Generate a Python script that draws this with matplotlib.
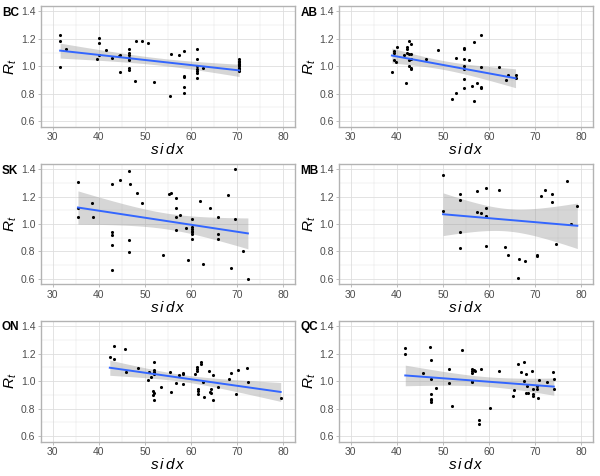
import numpy as np
import matplotlib
matplotlib.use("Agg")
import matplotlib.pyplot as plt
from matplotlib.ticker import MultipleLocator

# ---------------- data ----------------
bc_x = [31.65, 31.65, 31.65, 32.95, 39.6, 40.0, 40.0, 40.0, 41.6, 42.8, 44.4, 44.7, 44.6,
        46.5, 46.5, 46.5, 46.5, 46.5, 46.5, 46.5, 47.8, 48.1, 49.4, 50.7, 52.0, 55.4, 55.7,
        57.4, 58.4, 58.4, 58.4, 58.4, 58.4, 61.3, 61.3, 61.3, 61.3, 61.3, 61.3, 61.3, 62.6,
        70.4, 70.4, 70.4, 70.4, 70.4, 70.4, 70.4, 70.4, 70.4, 70.4]
bc_y = [1.23, 1.185, 0.995, 1.13, 1.05, 1.21, 1.17, 1.08, 1.12, 1.06, 1.075, 1.08, 0.96,
        1.125, 1.095, 1.08, 1.06, 1.045, 0.99, 0.97, 0.89, 1.185, 1.185, 1.17, 0.888, 0.783, 1.093,
        1.08, 1.11, 0.93, 0.92, 0.853, 0.805, 1.127, 1.05, 1.0, 0.98, 0.965, 0.955, 0.912, 0.99,
        1.05, 1.04, 1.03, 1.02, 1.015, 1.01, 1.0, 0.99, 0.98, 0.965]

ab_x = [38.9, 39.3, 39.3, 39.3, 39.8, 40.1, 41.5, 41.9, 42.1, 42.1, 42.2, 42.6, 42.6, 42.6,
        42.6, 43.0, 43.1, 43.1, 43.1, 43.1, 46.3, 48.8, 52.0, 52.8, 52.9, 54.6, 54.6, 54.6,
        54.6, 54.6, 54.6, 54.6, 55.6, 56.2, 56.8, 56.8, 57.3, 58.3, 58.3, 58.3, 58.3, 62.1,
        63.6, 64.1, 65.7, 65.7]
ab_y = [0.956, 1.10, 1.11, 1.046, 1.03, 1.139, 1.08, 0.88, 1.14, 1.13, 1.10, 1.188, 1.088, 1.044,
        1.0, 1.163, 1.088, 1.056, 0.99, 0.98, 1.056, 1.12, 0.763, 0.805, 1.063, 1.137, 1.125, 1.056,
        1.0, 0.98, 0.907, 0.84, 1.044, 0.86, 1.175, 0.744, 0.875, 1.227, 0.995, 0.85, 0.84, 0.995,
        0.90, 0.934, 0.934, 0.912]

sk_x = [35.5, 35.5, 35.5, 38.6, 38.8, 42.8, 42.8, 42.8, 42.8, 42.8, 44.6, 46.5, 46.8, 46.5,
        46.5, 48.3, 49.4, 53.9, 55.3, 55.6, 56.7, 56.7, 56.7, 56.7, 57.5, 58.8, 59.4, 60.3,
        60.3, 60.3, 60.3, 60.3, 60.3, 60.3, 61.9, 62.6, 64.0, 65.8, 65.8, 65.8, 68.1, 68.6,
        69.5, 69.6, 71.3, 72.3]
sk_y = [1.309, 1.118, 1.049, 1.155, 1.054, 1.297, 0.941, 0.919, 0.848, 0.661, 1.324, 1.39, 1.297, 0.882,
        0.796, 1.231, 1.157, 0.777, 1.218, 1.228, 1.191, 1.118, 1.052, 0.956, 1.066, 0.975, 0.737, 1.039,
        0.98, 0.965, 0.95, 0.94, 0.925, 0.89, 1.167, 0.705, 1.118, 1.052, 0.929, 0.892, 1.216, 0.676,
        1.403, 1.037, 0.80, 0.598]

mb_x = [50.0, 50.0, 53.6, 53.7, 53.7, 53.7, 57.3, 57.4, 58.3, 59.2, 59.2, 59.2, 59.2, 62.2,
        63.4, 64.0, 66.4, 66.2, 67.8, 70.4, 70.4, 71.3, 72.1, 73.6, 73.6, 74.5, 76.8, 77.7, 79.1]
mb_y = [1.361, 1.098, 1.223, 1.177, 0.939, 0.826, 1.24, 1.086, 1.083, 1.265, 1.115, 1.056, 0.84, 1.252,
        0.835, 0.776, 0.747, 0.605, 0.732, 0.772, 0.765, 1.206, 1.25, 1.218, 1.162, 0.853, 1.317, 0.998, 1.133]

on_x = [42.4, 43.3, 43.3, 45.7, 45.9, 48.6, 50.6, 50.8, 51.4, 51.9, 51.9, 51.9, 51.9, 51.8,
        52.0, 51.7, 51.9, 53.5, 55.4, 55.7, 56.8, 57.4, 58.3, 58.3, 58.3, 60.9, 61.2, 61.2,
        61.2, 61.6, 61.6, 61.6, 62.1, 62.1, 62.6, 62.8, 63.8, 64.0, 64.4, 64.4, 64.7, 64.7,
        65.8, 68.2, 68.6, 69.8, 70.1, 72.2, 72.4, 79.4]
on_y = [1.179, 1.254, 1.162, 1.233, 1.066, 1.095, 1.01, 1.066, 1.032, 1.136, 1.08, 1.066, 1.051, 0.927,
        0.91, 0.898, 0.864, 0.954, 1.068, 0.917, 0.985, 1.041, 1.061, 1.049, 0.978, 1.049, 1.10, 1.087,
        1.075, 0.942, 0.925, 0.908, 1.141, 1.124, 0.993, 0.884, 1.073, 0.917, 0.91, 0.944, 1.046, 0.859,
        0.959, 1.012, 1.056, 0.905, 1.083, 1.092, 0.995, 0.88]

qc_x = [41.8, 41.8, 45.6, 47.1, 47.3, 47.3, 47.3, 47.3, 47.3, 47.3, 48.4, 51.3, 51.3, 51.9,
        54.2, 56.3, 56.3, 56.3, 56.3, 56.3, 56.7, 57.0, 57.8, 57.8, 58.3, 60.2, 62.1, 65.1,
        65.4, 66.3, 66.9, 67.5, 67.6, 68.0, 68.0, 68.4, 68.3, 69.3, 69.4, 69.4, 69.4, 70.3,
        70.3, 70.5, 70.8, 72.6, 73.9, 74.0, 74.0]
qc_y = [1.24, 1.196, 1.061, 1.247, 1.152, 1.017, 0.905, 0.873, 0.861, 0.849, 0.951, 1.09, 0.983, 0.815,
        1.228, 1.085, 1.073, 1.061, 1.002, 0.99, 1.08, 1.07, 0.716, 0.684, 1.09, 0.805, 1.073, 0.888,
        0.934, 1.123, 1.065, 1.136, 0.998, 1.055, 0.915, 0.91, 0.961, 1.07, 0.939, 0.905, 0.89, 0.964,
        0.939, 0.88, 1.005, 0.992, 1.065, 1.012, 0.939]

tags = ["BC", "AB", "SK", "MB", "ON", "QC"]
xs = [bc_x, ab_x, sk_x, mb_x, on_x, qc_x]
ys = [bc_y, ab_y, sk_y, mb_y, on_y, qc_y]
x_ticks = [30, 40, 50, 60, 70, 80]
y_ticks = [0.6, 0.8, 1.0, 1.2, 1.4]

# ---------------- figure ----------------
plt.rcParams['font.family'] = ['Liberation Sans', 'DejaVu Sans']
plt.rcParams['mathtext.fontset'] = 'custom'
plt.rcParams['mathtext.it'] = 'Liberation Sans:italic'
plt.rcParams['mathtext.rm'] = 'Liberation Sans'
plt.rcParams['mathtext.bf'] = 'Liberation Sans:bold'
W, H = 600, 476
fig = plt.figure(figsize=(W / 100, H / 100), dpi=100)

cols = [(41.0, 295.0), (339.3, 593.0)]
rows = [(6.0, 126.7), (164.0, 284.3), (320.7, 441.5)]


def t975(df):
    z = 1.959964
    return (z + (z**3 + z) / (4 * df) + (5 * z**5 + 16 * z**3 + 3 * z) / (96 * df**2)
            + (3 * z**7 + 19 * z**5 + 17 * z**3 - 15 * z) / (384 * df**3))


border_c = '#B3B3B3'
grid_c = '#DEDEDE'
text_c = '#4D4D4D'

for i, (tag, x, y) in enumerate(zip(tags, xs, ys)):
    r, c = divmod(i, 2)
    l, rr = cols[c]
    t, b = rows[r]
    ax = fig.add_axes([l / W, 1 - b / H, (rr - l) / W, (b - t) / H])
    x = np.asarray(x, float)
    y = np.asarray(y, float)

    ax.set_xlim(27.5, 82.5)
    ax.set_ylim(0.56, 1.44)
    ax.set_xticks(x_ticks)
    ax.set_yticks(y_ticks)
    ax.set_yticklabels([f"{v:.1f}" for v in y_ticks])
    ax.xaxis.set_minor_locator(MultipleLocator(5))
    ax.yaxis.set_minor_locator(MultipleLocator(0.1))
    ax.grid(which='major', color=grid_c, lw=0.6)
    ax.grid(which='minor', color=grid_c, lw=0.3)
    ax.set_axisbelow(True)
    for sp in ax.spines.values():
        sp.set_color(border_c)
        sp.set_linewidth(1.0)
    ax.tick_params(which='major', length=2.5, width=0.6, color=border_c,
                   labelsize=7.5, labelcolor=text_c, pad=1.5)
    ax.tick_params(which='minor', length=0)

    # linear fit with 95% CI
    n = len(x)
    slope, icpt = np.polyfit(x, y, 1)
    resid = y - (icpt + slope * x)
    s = np.sqrt(np.sum(resid**2) / (n - 2))
    xm = x.mean()
    sxx = np.sum((x - xm) ** 2)
    xx = np.linspace(x.min(), x.max(), 80)
    yy = icpt + slope * xx
    se = s * np.sqrt(1 / n + (xx - xm) ** 2 / sxx)
    tq = t975(n - 2)
    ax.fill_between(xx, yy - tq * se, yy + tq * se, color='#999999', alpha=0.4,
                    lw=0, zorder=2)
    ax.scatter(x, y, s=5, color='black', zorder=3, linewidths=0)
    ax.plot(xx, yy, color='#3366FF', lw=1.4, zorder=4)

    ax.set_xlabel(r'$s\,i\,d\,x$', fontsize=11, labelpad=0, color='black')
    ax.set_ylabel(r'$R_t$', fontsize=11, labelpad=1, color='black')

    fig.text((l - 39) / W, 1 - (t + 6.5) / H, tag, fontsize=8.5, fontweight='bold',
             ha='left', va='center')

fig.savefig('out.png', dpi=100)
